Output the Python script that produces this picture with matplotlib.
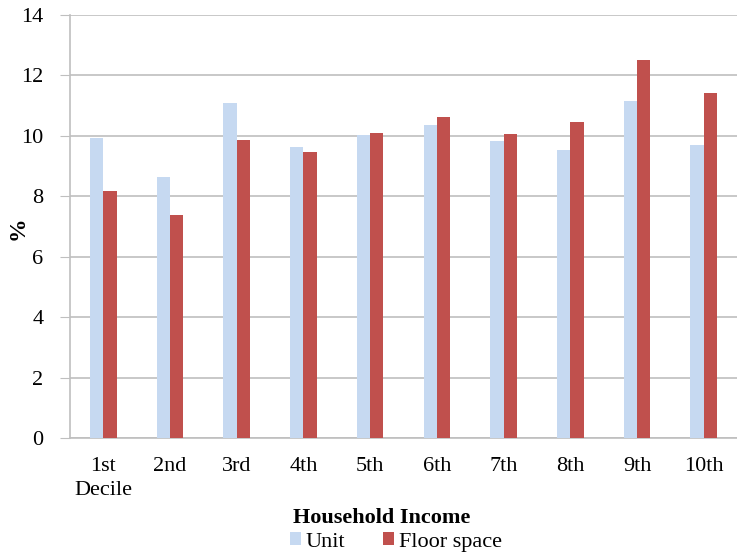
import numpy as np
import matplotlib
matplotlib.use('Agg')
import matplotlib.pyplot as plt

categories = ['1st\nDecile', '2nd', '3rd', '4th', '5th', '6th', '7th', '8th', '9th', '10th']
unit = [9.93, 8.64, 11.1, 9.63, 10.03, 10.36, 9.83, 9.53, 11.16, 9.7]
floor_space = [8.18, 7.38, 9.87, 9.47, 10.1, 10.63, 10.07, 10.46, 12.52, 11.42]

plt.rcParams['font.family'] = ['Liberation Serif', 'DejaVu Serif']

fig = plt.figure(figsize=(7.37, 5.54), dpi=100)
ax = fig.add_axes([70 / 737, 1 - 438 / 554, 667 / 737, 423 / 554])

x = np.arange(len(categories))
w = 0.2
ax.bar(x - w / 2, unit, width=w, color='#c6d9f1', label='Unit', zorder=3)
ax.bar(x + w / 2, floor_space, width=w, color='#c0504d', label='Floor space', zorder=3)

ax.set_xlim(-0.5, len(categories) - 0.5)
ax.set_ylim(0, 14)
ax.set_yticks(range(0, 15, 2))
ax.yaxis.grid(True, color='#bfbfbf', linewidth=1.2, zorder=0)
ax.set_xticks(x)
ax.set_xticklabels(categories, fontsize=16, linespacing=1.3)
ax.tick_params(axis='y', labelsize=16, length=7, color='#bfbfbf', pad=12)
ax.tick_params(axis='x', length=0, pad=14)
for s in ['top', 'right']:
    ax.spines[s].set_visible(False)
for s in ['left', 'bottom']:
    ax.spines[s].set_color('#bfbfbf')
    ax.spines[s].set_linewidth(1.2)

# y label placed by hand so it sits at the far left like the original
fig.text(18 / 737, 1 - 228 / 554, '%', rotation=90, ha='center', va='center',
         fontsize=17, fontweight='bold')
fig.text(382 / 737, 1 - 518 / 554, 'Household Income', ha='center', va='center',
         fontsize=16, fontweight='bold')
fig.legend(loc='center', bbox_to_anchor=(396 / 737, 1 - 542 / 554), ncol=2, frameon=False,
           fontsize=16, handlelength=0.5, handleheight=0.5, handletextpad=0.2,
           columnspacing=1.7, borderpad=0)

fig.savefig('out.png', dpi=100)
